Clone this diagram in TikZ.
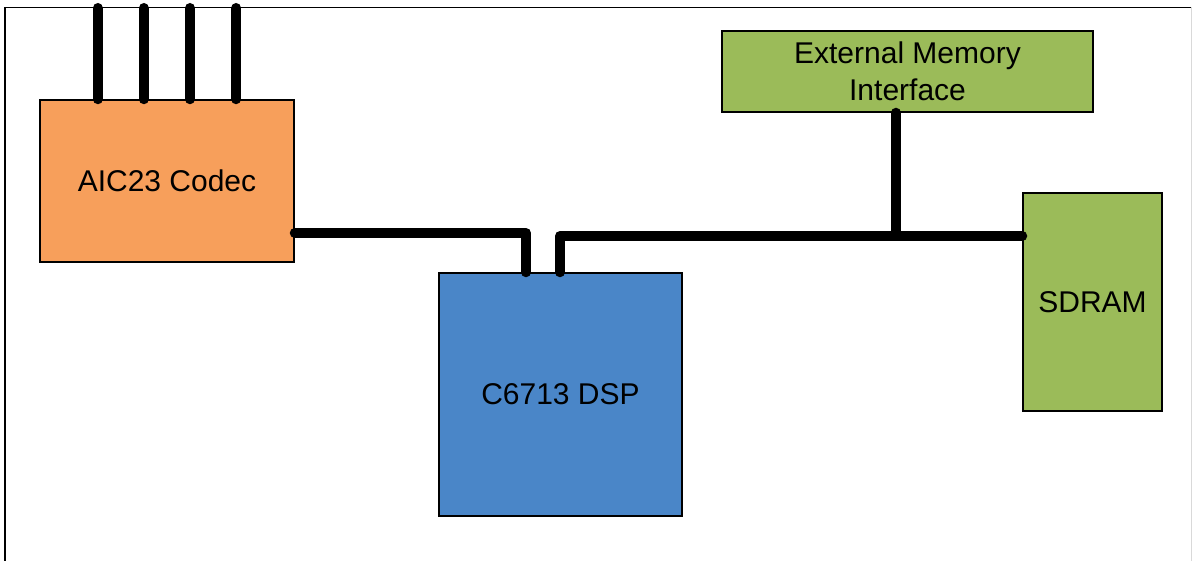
\documentclass[tikz,border=0pt]{standalone}
\usepackage{fontspec}
\setmainfont{Liberation Sans}
\definecolor{codecfill}{HTML}{F79F5B}
\definecolor{dspfill}{HTML}{4A86C8}
\definecolor{memfill}{HTML}{9BBB59}
\begin{document}
\begin{tikzpicture}[x=1pt,y=1pt,
  blockbox/.style={draw=black,line width=1.5pt,inner sep=0pt,align=center,
    font=\fontsize{30}{37}\selectfont},
  bus/.style={line width=10pt,line cap=round,line join=round}]
\useasboundingbox (0,0) rectangle (1196,561);
% frame
\draw[line width=1.5pt] (5,0) -- (5,553.5) -- (1191,553.5);
\draw[line width=0.8pt,black!15] (1191,553.5) -- (1191,0);
% blocks
\node[blockbox,fill=codecfill,minimum width=254pt,minimum height=162pt] (codec) at (167,380) {AIC23 Codec};
\node[blockbox,fill=dspfill,minimum width=243pt,minimum height=243pt] (dsp) at (560.5,166.5) {C6713 DSP};
\node[blockbox,fill=memfill,minimum width=371pt,minimum height=81pt] (emi) at (907.5,489.5) {External Memory\\Interface};
\node[blockbox,fill=memfill,minimum width=139pt,minimum height=218pt] (sdram) at (1092.5,259) {SDRAM};
% pins
\coordinate (p1) at (97.7,553);
\coordinate (p2) at (143.7,553);
\coordinate (p3) at (190,553);
\coordinate (p4) at (236.3,553);
\foreach \p in {p1,p2,p3,p4}{\draw[bus] (\p) -- (\p |- codec.north);}
% codec to dsp
\coordinate (b1) at (526,328);
\draw[bus] (codec.east |- b1) -- (b1) -- (b1 |- dsp.north);
% dsp to sdram
\coordinate (b2) at (560,325);
\draw[bus] (b2 |- dsp.north) -- (b2) -- (b2 -| sdram.west);
% emi tap
\coordinate (t) at (896,325);
\draw[bus] (t |- emi.south) -- (t);
\end{tikzpicture}
\end{document}
